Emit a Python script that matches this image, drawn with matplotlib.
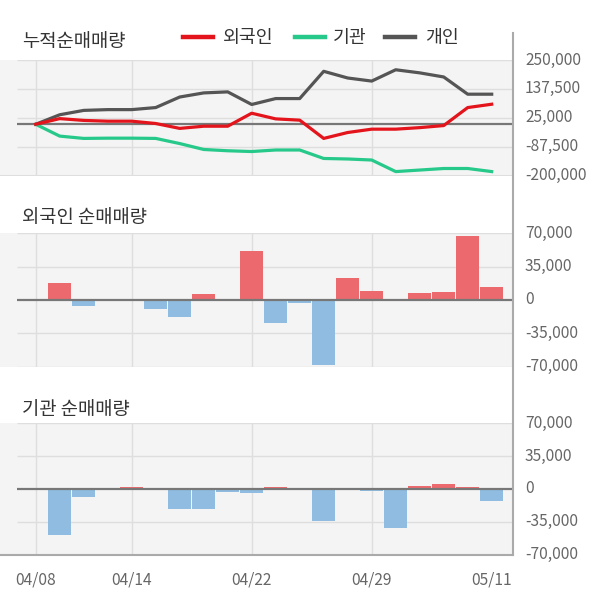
import numpy as np
import matplotlib.pyplot as plt
from matplotlib.lines import Line2D

plt.rcParams['font.family'] = ['Noto Sans CJK KR', 'DejaVu Sans']

dates = ["04/08", "04/09", "04/10", "04/13", "04/14", "04/16", "04/17", "04/20",
         "04/21", "04/22", "04/23", "04/24", "04/27", "04/28", "04/29", "05/04",
         "05/06", "05/07", "05/08", "05/11"]
tick_dates = ["04/08", "04/14", "04/22", "04/29", "05/11"]

# cumulative net buying
foreign_cum = [0, 22000, 15000, 12000, 12000, 3000, -16000, -7500, -7500, 43000,
               21000, 16000, -55000, -32000, -19000, -19000, -13000, -5000, 65000, 78000]
inst_cum = [0, -46000, -55000, -54000, -54000, -55000, -75000, -98000, -103000, -106000,
            -100000, -100000, -133000, -135000, -139000, -184000, -178000, -172000, -172000, -184000]
indiv_cum = [0, 37000, 54000, 57000, 57000, 65000, 106000, 122000, 126000, 77000,
             100000, 100000, 206000, 180000, 168000, 212000, 200000, 184000, 117000, 117000]

# daily net buying
foreign_day = [0, 17300, -6700, 0, 0, -9900, -17700, 6700, 0, 51300,
               -24000, -3500, -68600, 22600, 9900, 1400, 7800, 8800, 67200, 13100]
inst_day = [0, -49400, -8900, 0, 2500, 1400, -21700, -21700, -3500, -4600,
            2500, 0, -34400, 0, -2500, -41900, 3500, 5700, 2500, -13100]

top_ticks = [250000, 137500, 25000, -87500, -200000]
bar_ticks = [70000, 35000, 0, -35000, -70000]

BG = "#f4f4f4"
GRID = "#dedede"
ZERO = "#777777"
TXT = "#666666"
RED_BAR = "#ec6a6e"
BLUE_BAR = "#8fbce0"

W, H = 600, 604
fig = plt.figure(figsize=(W / 100, H / 100), dpi=100)

x = np.arange(len(dates))
x0, dx = 35.7, 24.0
xl = ((0 - x0) / dx, (512.7 - x0) / dx)
gx = (17 - x0) / dx  # gridlines start a bit right of the panel edge


def make_ax(ytop, ybot):
    ax = fig.add_axes([0, (H - ybot) / H, 512.7 / W, (ybot - ytop) / H])
    ax.set_facecolor(BG)
    ax.set_xlim(*xl)
    for s in ax.spines.values():
        s.set_visible(False)
    ax.set_xticks([])
    ax.set_yticks([])
    for d in tick_dates[:-1]:
        ax.axvline(dates.index(d), color=GRID, lw=1, zorder=0)
    return ax


def ylabels(ax, ticks, lo, hi):
    ax.set_ylim(lo, hi)
    ax.hlines([t for t in ticks if t != 0], gx, xl[1], color=GRID, lw=1, zorder=0)
    for t in ticks:
        ax.text(1.024, (t - lo) / (hi - lo), f"{t:,}", transform=ax.transAxes,
                ha="left", va="center", fontsize=11.2, color=TXT, clip_on=False)


# top: cumulative
ax1 = make_ax(60, 175.7)
ylabels(ax1, top_ticks, -200000, 250000)
ax1.axhline(-200000, color=GRID, lw=1.5, zorder=0)
ax1.hlines(0, gx, xl[1], color=ZERO, lw=1.6, zorder=1)
ax1.plot(x, indiv_cum, color="#555555", lw=2.3, zorder=3)
ax1.plot(x, inst_cum, color="#26c98a", lw=2.3, zorder=3)
ax1.plot(x, foreign_cum, color="#e3141b", lw=2.3, zorder=4)
fig.text(22 / W, 1 - 41 / H, "누적순매매량", fontsize=13.5, color="#333333", va="center")

# legend drawn by hand
for (x1, x2, tx, lab, c) in [(183, 213, 223, "외국인", "#e3141b"),
                             (295, 325, 333, "기관", "#26c98a"),
                             (385, 415, 425, "개인", "#555555")]:
    fig.add_artist(Line2D([x1 / W, x2 / W], [1 - 37 / H] * 2, color=c, lw=3.2))
    fig.text(tx / W, 1 - 38 / H, lab, fontsize=13.2, color="#333333", va="center")

# middle: foreign daily
ax2 = make_ax(233.3, 366.6)
ylabels(ax2, bar_ticks, -70000, 70000)
ax2.bar(x, foreign_day, width=0.95,
        color=[RED_BAR if v > 0 else BLUE_BAR for v in foreign_day], zorder=2)
ax2.hlines(0, gx, xl[1], color=ZERO, lw=1.6, zorder=3)
fig.text(22 / W, 1 - 217 / H, "외국인 순매매량", fontsize=13.5, color="#333333", va="center")

# bottom: institution daily
ax3 = make_ax(423.3, 554.5)
ylabels(ax3, bar_ticks, -70000, 70000)
ax3.bar(x, inst_day, width=0.95,
        color=[RED_BAR if v > 0 else BLUE_BAR for v in inst_day], zorder=2)
ax3.hlines(0, gx, xl[1], color=ZERO, lw=1.6, zorder=3)
ax3.spines["bottom"].set_visible(True)
ax3.spines["bottom"].set_color("#aaaaaa")
ax3.spines["bottom"].set_linewidth(1.5)
fig.text(22 / W, 1 - 410 / H, "기관 순매매량", fontsize=13.5, color="#333333", va="center")

for d in tick_dates:
    fig.text((x0 + dates.index(d) * dx) / W, 1 - 580 / H, d, ha="center", va="center",
             fontsize=11.2, color=TXT)

# right axis line through all panels
fig.add_artist(Line2D([512.7 / W] * 2, [1 - 33 / H, 1 - 555 / H], color="#aaaaaa", lw=1.5))

fig.savefig("out.png", dpi=100, facecolor="white")
